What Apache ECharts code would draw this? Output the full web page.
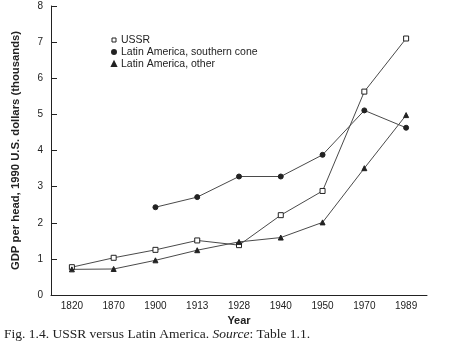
<!DOCTYPE html>
<html>
<head>
<meta charset="utf-8">
<script src="https://cdn.jsdelivr.net/npm/echarts@6/dist/echarts.min.js"></script>
<style>
  html, body { margin: 0; padding: 0; background: #fff; }
  #chart { width: 452px; height: 346px; }
</style>
</head>
<body>
<div id="chart"></div>
<script>
// GDP per head, 1990 U.S. dollars (thousands)
const years = ['1820', '1870', '1900', '1913', '1928', '1940', '1950', '1970', '1989'];
const ussr = [0.77, 1.03, 1.25, 1.51, 1.38, 2.21, 2.88, 5.63, 7.10];
const southernCone = [null, null, 2.43, 2.71, 3.28, 3.28, 3.88, 5.11, 4.63];
const otherLatAm = [0.71, 0.72, 0.96, 1.24, 1.47, 1.59, 2.01, 3.51, 4.98];
const yTicks = [0, 1, 2, 3, 4, 5, 6, 7, 8];

const font = 'Liberation Sans, Arial, sans-serif';
const serif = 'Liberation Serif, Times New Roman, serif';
const lineColor = '#4a4a4a';

function series(name, data, symbol, filled) {
  return {
    name: name,
    type: 'line',
    data: data,
    symbol: symbol,
    symbolSize: 5,
    showAllSymbol: true,
    connectNulls: false,
    lineStyle: { color: lineColor, width: 1 },
    itemStyle: {
      color: filled ? '#222' : '#fff',
      borderColor: '#222',
      borderWidth: 1
    },
    emphasis: { disabled: true },
    animation: false
  };
}

const chart = echarts.init(document.getElementById('chart'));
chart.setOption({
  animation: false,
  backgroundColor: '#fff',
  grid: { left: 51, top: 6, right: 25, bottom: 51, containLabel: false },
  legend: {
    orient: 'vertical',
    left: 106,
    top: 29,
    itemWidth: 4,
    itemHeight: 4,
    itemGap: 0,
    textStyle: { fontFamily: font, fontSize: 10.5, color: '#222', lineHeight: 12 },
    data: [
      { name: 'USSR', icon: 'rect', itemStyle: { color: '#fff', borderColor: '#222', borderWidth: 1 } },
      { name: 'Latin America, southern cone', icon: 'circle', itemStyle: { color: '#222' } },
      { name: 'Latin America, other', icon: 'triangle', itemStyle: { color: '#222' } }
    ]
  },
  xAxis: {
    type: 'category',
    data: years,
    boundaryGap: true,
    name: 'Year',
    nameLocation: 'middle',
    nameGap: 19,
    nameTextStyle: { fontFamily: font, fontSize: 11, fontWeight: 'bold', color: '#222' },
    axisLine: { lineStyle: { color: '#222', width: 1 } },
    axisTick: { inside: true, alignWithLabel: true, length: 6, lineStyle: { color: '#222' } },
    axisLabel: { fontFamily: font, fontSize: 10, color: '#222', margin: 6 },
    splitLine: { show: false }
  },
  yAxis: {
    type: 'value',
    min: yTicks[0],
    max: yTicks[yTicks.length - 1],
    interval: 1,
    name: 'GDP per head, 1990 U.S. dollars (thousands)',
    nameLocation: 'middle',
    nameGap: 30,
    nameTextStyle: { fontFamily: font, fontSize: 11.3, fontWeight: 'bold', color: '#222' },
    axisLine: { show: true, lineStyle: { color: '#222', width: 1 } },
    axisTick: { show: true, inside: true, length: 6, lineStyle: { color: '#222' } },
    axisLabel: { fontFamily: font, fontSize: 10, color: '#222', margin: 8 },
    splitLine: { show: false }
  },
  series: [
    series('USSR', ussr, 'rect', false),
    series('Latin America, southern cone', southernCone, 'circle', true),
    series('Latin America, other', otherLatAm, 'triangle', true)
  ],
  graphic: [{
    type: 'text',
    left: 4,
    top: 327,
    style: {
      text: '{n|Fig. 1.4. USSR versus Latin America. }{i|Source}{n|: Table 1.1.}',
      rich: {
        n: { fontFamily: serif, fontSize: 13.5, fill: '#222' },
        i: { fontFamily: serif, fontSize: 13.5, fontStyle: 'italic', fill: '#222' }
      }
    }
  }]
});
</script>
</body>
</html>
